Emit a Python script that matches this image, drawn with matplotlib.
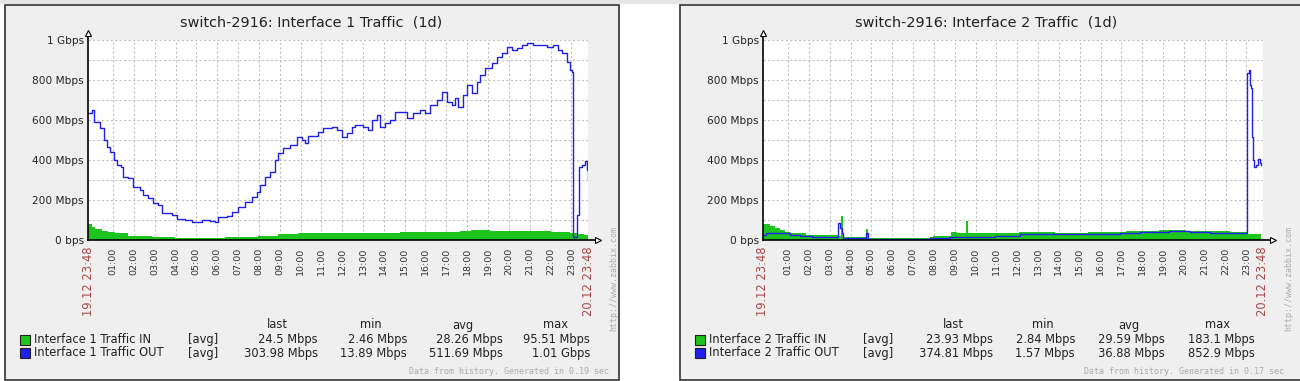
import matplotlib.pyplot as plt
from matplotlib.patches import Rectangle

# time axis: hours since 19.12 23:48, values in Mbps
hour_ticks = [0.2, 1.2, 2.2, 3.2, 4.2, 5.2, 6.2, 7.2, 8.2, 9.2, 10.2, 11.2,
              12.2, 13.2, 14.2, 15.2, 16.2, 17.2, 18.2, 19.2, 20.2, 21.2, 22.2, 23.2]
hour_labels = ['00:00', '01:00', '02:00', '03:00', '04:00', '05:00', '06:00', '07:00',
               '08:00', '09:00', '10:00', '11:00', '12:00', '13:00', '14:00', '15:00',
               '16:00', '17:00', '18:00', '19:00', '20:00', '21:00', '22:00', '23:00']
y_ticks = [0, 200, 400, 600, 800, 1000]
y_labels = ['0 bps', '200 Mbps', '400 Mbps', '600 Mbps', '800 Mbps', '1 Gbps']

# Interface 1
if1_in_t = [0.00, 0.21, 0.33, 0.66, 0.98, 1.30, 1.93, 3.06, 4.18, 6.58, 8.18, 9.13, 10.10,
            11.5, 12.6, 13.5, 14.98, 16.2, 17.0, 17.86, 18.4, 19.3, 20.2, 21.0, 22.2,
            23.14, 23.5, 23.8, 24.0]
if1_in_v = [80, 67, 55, 47, 40, 33, 22, 15, 8, 13, 20, 28, 37,
            33, 37, 35, 38, 40, 42, 45, 48, 45, 47, 45, 42,
            33, 30, 25, 25]
if1_out_t = [0.00, 0.21, 0.30, 0.49, 0.58, 0.78, 0.90, 1.06, 1.26, 1.38, 1.58, 1.69, 1.93,
             2.15, 2.50, 2.65, 2.89, 3.13, 3.37, 3.57, 3.78, 4.02, 4.26, 4.66, 4.98, 5.22,
             5.46, 5.86, 6.10, 6.25, 6.66, 6.90, 7.21, 7.54, 7.86, 8.10, 8.26, 8.50, 8.74,
             8.98, 9.13, 9.37, 9.70, 10.02, 10.26, 10.42, 10.57, 10.90, 11.05, 11.29, 11.70,
             11.94, 12.18, 12.42, 12.66, 12.82, 13.06, 13.20, 13.44, 13.63, 13.87, 14.02,
             14.26, 14.50, 14.74, 14.98, 15.31, 15.60, 15.94, 16.18, 16.42, 16.75, 16.99,
             17.23, 17.47, 17.62, 17.76, 18.00, 18.19, 18.43, 18.67, 18.82, 19.06, 19.39,
             19.63, 19.87, 20.11, 20.35, 20.59, 20.83, 21.07, 21.36, 21.70, 22.03, 22.32,
             22.56, 22.75, 22.99, 23.14, 23.23, 23.27, 23.49, 23.55, 23.70, 23.86, 23.94,
             23.97, 24.0]
if1_out_v = [633, 650, 592, 592, 558, 500, 467, 442, 400, 375, 367, 317, 308,
             263, 250, 225, 208, 183, 175, 133, 137, 125, 103, 100, 92, 92,
             100, 97, 92, 117, 120, 142, 167, 192, 217, 242, 275, 317, 342,
             400, 433, 458, 475, 517, 500, 483, 520, 520, 542, 558, 567,
             550, 517, 533, 567, 575, 575, 567, 550, 600, 625, 567,
             583, 600, 642, 642, 608, 633, 650, 633, 675, 700, 742,
             692, 675, 708, 667, 725, 775, 733, 792, 825, 858, 883,
             917, 933, 967, 950, 958, 975, 983, 975, 975, 967, 975,
             950, 933, 892, 850, 842, 15, 125, 367, 375, 397, 392,
             350, 304]

# Interface 2
if2_in_t = [0.00, 0.34, 0.58, 0.82, 1.06, 1.30, 2.06, 3.60, 3.74, 3.84, 4.94, 5.04, 8.02,
            8.18, 9.02, 9.30, 9.73, 9.84, 12.3, 14.0, 15.6, 17.4, 19.0, 20.3, 22.4, 23.22, 23.90]
if2_in_v = [80, 70, 58, 50, 38, 33, 23, 20, 120, 13, 55, 12, 15,
            20, 40, 33, 97, 35, 38, 35, 40, 45, 48, 45, 42, 30, 25]
if2_out_t = [0.00, 0.14, 0.43, 1.30, 1.78, 2.35, 3.61, 3.70, 3.78, 3.84, 4.94, 5.04, 8.02,
             8.98, 11.14, 12.34, 14.26, 17.14, 18.10, 19.5, 20.5, 21.46, 23.22, 23.33, 23.36,
             23.42, 23.46, 23.52, 23.57, 23.65, 23.75, 23.84, 23.90]
if2_out_v = [25, 35, 33, 25, 20, 17, 83, 60, 33, 10, 33, 5, 8,
             13, 20, 28, 30, 35, 42, 45, 40, 33, 833, 850, 775,
             758, 517, 400, 363, 373, 403, 383, 375]

# legend statistics: last, min, avg, max
if1_in_stats = ['24.5 Mbps', '2.46 Mbps', '28.26 Mbps', '95.51 Mbps']
if1_out_stats = ['303.98 Mbps', '13.89 Mbps', '511.69 Mbps', '1.01 Gbps']
if2_in_stats = ['23.93 Mbps', '2.84 Mbps', '29.59 Mbps', '183.1 Mbps']
if2_out_stats = ['374.81 Mbps', '1.57 Mbps', '36.88 Mbps', '852.9 Mbps']

GREEN = '#1ec41e'
BLUE = '#1f1fee'
TXT = '#222222'
W, H = 1300, 381

fig = plt.figure(figsize=(13, 3.81), dpi=100)
fig.patch.set_facecolor('white')
bg = fig.add_axes([0, 0, 1, 1], zorder=0)
bg.set_xlim(0, W)
bg.set_ylim(H, 0)
bg.axis('off')
bg.add_patch(Rectangle((0, 0), W, 3.5, color='#e4e4e4', lw=0))


def draw_panel(dx, width, num, in_t, in_v, out_t, out_v, in_stats, out_stats,
               head_x, val_x, gen_time):
    bg.add_patch(Rectangle((4.5 + dx, 4.5), width, 375, fc='#efefef', ec='#333333', lw=1.2))
    bg.text(311.5 + dx, 22, 'switch-2916: Interface %d Traffic  (1d)' % num,
            ha='center', va='center', fontsize=10.4, color=TXT)

    ax = fig.add_axes([(88 + dx) / W, 1 - 240 / H, 500 / W, 200 / H], zorder=1)
    ax.set_facecolor('white')
    ax.set_xlim(0, 24)
    ax.set_ylim(0, 1000)
    for s in ax.spines.values():
        s.set_visible(False)

    grid = dict(color='#c2c2c2', lw=0.8, ls=(0, (2, 2)), zorder=1)
    for y in range(100, 1001, 100):
        ax.axhline(y, **grid)
    for t in hour_ticks[1:] + [24]:
        ax.axvline(t, **grid)

    ax.fill_between(in_t, in_v, step='post', color=GREEN, lw=0, zorder=2)
    ax.step(out_t, out_v, where='post', color=BLUE, lw=1.0, zorder=3)

    # axes with arrows
    ax.plot([0, 0], [0, 1.03], transform=ax.transAxes, color='black', lw=1.2,
            clip_on=False, zorder=4)
    ax.plot([0, 1.016], [0, 0], transform=ax.transAxes, color='black', lw=1.2,
            clip_on=False, zorder=4)
    ax.plot([0], [1.035], marker='^', ms=5, mfc='white', mec='black', mew=0.8,
            transform=ax.transAxes, clip_on=False, zorder=5)
    ax.plot([1.02], [0], marker='>', ms=5, mfc='white', mec='black', mew=0.8,
            transform=ax.transAxes, clip_on=False, zorder=5)

    ax.set_yticks(y_ticks)
    ax.set_yticklabels(y_labels)
    ax.set_xticks(hour_ticks[1:])
    ax.set_xticklabels(hour_labels[1:], rotation=90)
    ax.tick_params(axis='y', length=0, pad=3, labelsize=7.6, colors=TXT)
    ax.tick_params(axis='x', length=0, pad=5.5, labelsize=6.8, colors='#333333')

    bg.text(88 + dx, 246, '19.12 23:48', rotation=90, ha='center', va='top',
            fontsize=8.3, color='#a84646')
    bg.text(588 + dx, 246, '20.12 23:48', rotation=90, ha='center', va='top',
            fontsize=8.3, color='#a84646')

    # legend table
    for hx, head in zip(head_x, ['last', 'min', 'avg', 'max']):
        bg.text(hx + dx, 325, head, ha='center', va='center', fontsize=8.3, color=TXT)
    rows = [(339.5, GREEN, 'Interface %d Traffic IN' % num, in_stats),
            (353, BLUE, 'Interface %d Traffic OUT' % num, out_stats)]
    for yc, col, name, stats in rows:
        bg.add_patch(Rectangle((19.5 + dx, yc - 5), 10, 10, fc=col, ec='#202020', lw=0.8))
        bg.text(34 + dx, yc, name, ha='left', va='center', fontsize=8.3, color=TXT)
        bg.text(188 + dx, yc, '[avg]', ha='left', va='center', fontsize=8.3, color=TXT)
        for vx, val in zip(val_x, stats):
            bg.text(vx + dx, yc, val, ha='right', va='center', fontsize=8.3, color=TXT)

    bg.text(609 + dx, 372, 'Data from history. Generated in %s sec' % gen_time,
            ha='right', va='center', family='DejaVu Sans Mono', fontsize=6, color='#ababab')
    bg.text(614 + dx, 331, 'http://www.zabbix.com', rotation=90, ha='center', va='bottom',
            family='DejaVu Sans Mono', fontsize=6, color='#ababab')


draw_panel(0, 614, 1, if1_in_t, if1_in_v, if1_out_t, if1_out_v,
           if1_in_stats, if1_out_stats, [277, 371, 463, 555], [318, 407, 503, 590], '0.19')
draw_panel(675, 640, 2, if2_in_t, if2_in_v, if2_out_t, if2_out_v,
           if2_in_stats, if2_out_stats, [278, 368, 454, 543], [318, 400, 490, 580], '0.17')

fig.savefig('out.png', dpi=100)
